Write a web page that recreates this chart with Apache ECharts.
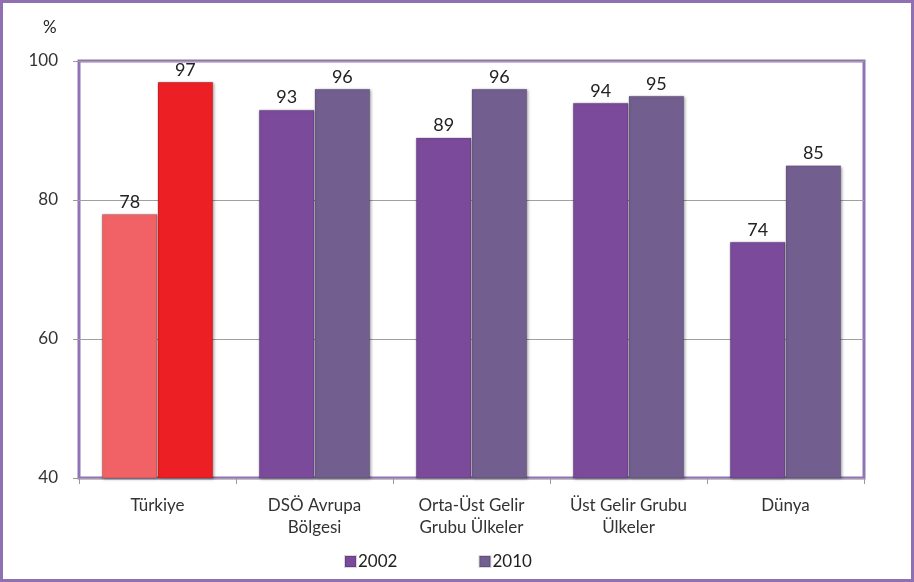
<!DOCTYPE html>
<html><head><meta charset="utf-8">
<script src="https://cdn.jsdelivr.net/npm/echarts@6/dist/echarts.min.js"></script>
<style>html,body{margin:0;padding:0;background:#fff}#c{width:914px;height:582px}</style>
</head><body><div id="c"></div>
<script>
const categories = ['Türkiye', 'DSÖ Avrupa\nBölgesi', 'Orta-Üst Gelir\nGrubu Ülkeler', 'Üst Gelir Grubu\nÜlkeler', 'Dünya'];
const values2002 = [78, 93, 89, 94, 74];
const values2010 = [97, 96, 96, 95, 85];
const seriesNames = ['2002', '2010'];
const yTicks = [40, 60, 80, 100];

const col2002 = '#7b4a9b', col2010 = '#725e8f';
const turk2002 = '#f06266', turk2010 = '#ec2024';

function mk(vals, turk) {
  return vals.map((v, i) => i === 0 ? {value: v, itemStyle: {color: turk}} : v);
}
const chart = echarts.init(document.getElementById('c'));
const font = 'Lato, "Open Sans", sans-serif';
const shadow = {shadowColor: 'rgba(0,0,0,0.35)', shadowBlur: 3, shadowOffsetX: 1, shadowOffsetY: 1, borderColor: 'rgba(0,0,0,0.15)', borderWidth: 1};
chart.setOption({
  animation: false,
  grid: {left: 79, right: 50, top: 61, bottom: 104, show: true, borderColor: '#9174b6', borderWidth: 3, backgroundColor: 'transparent'},
  legend: {
    bottom: 12, left: 344, padding: 0, itemGap: 81, itemWidth: 11, itemHeight: 11,
    textStyle: {fontFamily: font, fontSize: 17, color: '#222', padding: [0, 0, 0, -3]},
    data: seriesNames.map((n, i) => ({name: n, icon: 'rect', itemStyle: {color: i ? col2010 : col2002}}))
  },
  xAxis: {
    type: 'category', data: categories,
    axisLine: {show: false},
    axisTick: {show: true, length: 6, lineStyle: {color: '#999'}},
    axisLabel: {interval: 0, margin: 17, fontSize: 17, lineHeight: 22, color: '#333', fontFamily: font}
  },
  yAxis: {
    type: 'value', min: yTicks[0], max: yTicks[yTicks.length - 1], interval: 20,
    axisLine: {show: false},
    axisTick: {show: true, length: 6, lineStyle: {color: '#999'}},
    splitLine: {lineStyle: {color: '#a0a0a0'}},
    axisLabel: {margin: 21, fontSize: 17, color: '#333', fontFamily: font}
  },
  graphic: [
    {type: 'rect', shape: {x: 1.5, y: 1.5, width: 911, height: 579}, style: {fill: 'none', stroke: '#8e70b3', lineWidth: 3}, silent: true},
    {type: 'text', left: 43, top: 19, style: {text: '%', font: '17px ' + font, fill: '#222'}}
  ],
  series: [
    {name: seriesNames[0], type: 'bar', data: mk(values2002, turk2002), barGap: '0%', barCategoryGap: '29%',
     itemStyle: Object.assign({color: col2002}, shadow),
     label: {show: true, position: 'top', distance: 3, fontSize: 18, color: '#222', fontFamily: font}},
    {name: seriesNames[1], type: 'bar', data: mk(values2010, turk2010),
     itemStyle: Object.assign({color: col2010}, shadow),
     label: {show: true, position: 'top', distance: 3, fontSize: 18, color: '#222', fontFamily: font}}
  ]
});
</script></body></html>
